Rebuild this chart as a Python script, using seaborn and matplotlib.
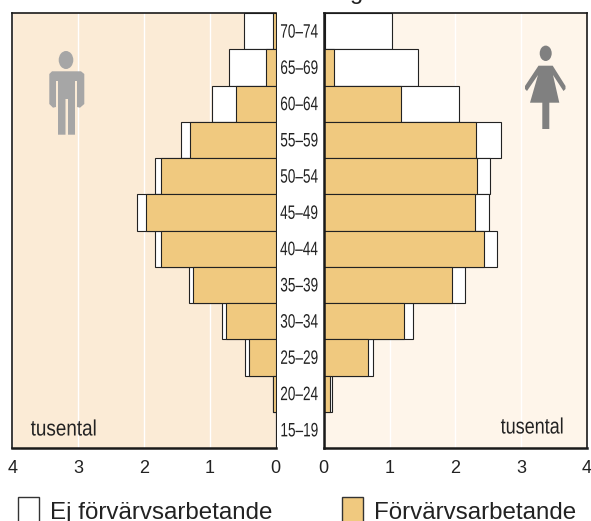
import numpy as np
import matplotlib
matplotlib.use('Agg')
import matplotlib.pyplot as plt
import matplotlib.patches as mpatches
from matplotlib.patheffects import AbstractPathEffect
from matplotlib.transforms import Affine2D
import seaborn as sns

# top row first, thousands
ages = ['70–74', '65–69', '60–64', '55–59', '50–54', '45–49',
        '40–44', '35–39', '30–34', '25–29', '20–24', '15–19']
menEmployed = [0.035, 0.14, 0.60, 1.30, 1.74, 1.97, 1.74, 1.25, 0.76, 0.40, 0.035, 0.0]
menTotal = [0.48, 0.71, 0.96, 1.44, 1.84, 2.10, 1.84, 1.32, 0.81, 0.46, 0.046, 0.0]
womenEmployed = [0.025, 0.15, 1.175, 2.32, 2.33, 2.30, 2.435, 1.955, 1.215, 0.67, 0.10, 0.0]
womenTotal = [1.04, 1.44, 2.05, 2.69, 2.52, 2.51, 2.64, 2.14, 1.36, 0.75, 0.12, 0.0]
xTicks = [0, 1, 2, 3, 4]

WIDTH, HEIGHT = 591, 521
ORANGE = '#F0C97F'
DARK = '#1A1A1A'
TEXT = '#222222'


class Squeeze(AbstractPathEffect):
    # narrow the glyphs around the middle of the string, no condensed font installed
    def __init__(self, factor):
        super().__init__()
        self.factor = factor

    def draw_path(self, renderer, gc, tpath, affine, rgbFace=None):
        mid = tpath.get_extents().x0 + tpath.get_extents().width / 2
        squeeze = Affine2D().translate(-mid, 0).scale(self.factor, 1).translate(mid, 0)
        renderer.draw_path(gc, tpath, squeeze + affine, rgbFace)


def axesRect(x0, x1, yTop, yBottom):
    return [x0 / WIDTH, 1 - yBottom / HEIGHT, (x1 - x0) / WIDTH, (yBottom - yTop) / HEIGHT]


def drawPanel(ax, total, employed, background):
    sns.barplot(x=total, y=ages, color='white', saturation=1, width=1,
                edgecolor='#222222', linewidth=0.8, ax=ax)
    sns.barplot(x=employed, y=ages, color=ORANGE, saturation=1, width=1,
                edgecolor='#222222', linewidth=0.8, ax=ax)
    ax.set_facecolor(background)
    ax.set_xlim(0, 4)
    ax.set_ylim(11.5, -0.5)
    ax.set_xticks(xTicks)
    ax.set_xlabel('')
    ax.set_ylabel('')
    ax.grid(axis='x', color='white', linewidth=1)
    ax.set_axisbelow(True)
    ax.tick_params(axis='x', length=0, pad=8.5, labelsize=13, labelcolor=TEXT)
    ax.tick_params(axis='y', length=0)
    for spine in ax.spines.values():
        spine.set_visible(True)
        spine.set_color(DARK)
        spine.set_linewidth(1.2)
    ax.spines['bottom'].set_linewidth(1.8)


if __name__ == '__main__':
    sns.set_style('white')
    plt.rcParams['font.family'] = ['Liberation Sans', 'DejaVu Sans']

    fig = plt.figure(figsize=(WIDTH / 100, HEIGHT / 100), dpi=100)
    axMen = fig.add_axes(axesRect(12.3, 275.7, 13, 448))
    axWomen = fig.add_axes(axesRect(323.7, 587, 13, 448))

    drawPanel(axMen, menTotal, menEmployed, '#FBEBD6')
    axMen.invert_xaxis()
    axMen.set_yticks([])
    axMen.spines['right'].set_linewidth(0.7)

    drawPanel(axWomen, womenTotal, womenEmployed, '#FEF5EA')
    axWomen.set_yticks(range(len(ages)))
    axWomen.set_yticklabels(ages, fontsize=14, color=TEXT, ha='center')
    axWomen.tick_params(axis='y', pad=17.5)
    axWomen.spines['left'].set_linewidth(1.8)
    for label in axWomen.get_yticklabels():
        label.set_path_effects([Squeeze(0.7)])

    # overlay in pixel coordinates for pictograms and legend
    over = fig.add_axes([0, 0, 1, 1], zorder=5)
    over.set_xlim(0, WIDTH)
    over.set_ylim(HEIGHT, 0)
    over.axis('off')
    over.patch.set_alpha(0)

    man = '#A6A6A6'
    over.add_patch(mpatches.Ellipse((66, 60), 14.6, 18, color=man, lw=0))
    over.add_patch(mpatches.Polygon([
        (52, 71.3), (81, 71.3), (84.3, 74), (84.3, 104), (80, 107.7), (77, 107),
        (77, 81), (75, 81), (75, 134.7), (68, 134.7), (68, 99), (65.5, 99),
        (65.5, 134.7), (58, 134.7), (58, 81), (56, 81), (56, 107), (53, 107.7),
        (49.3, 104), (49.3, 74)], closed=True, color=man, lw=0))

    woman = '#808080'
    over.add_patch(mpatches.Ellipse((545.7, 53.3), 12, 15.4, color=woman, lw=0))
    over.add_patch(mpatches.Polygon([
        (538.5, 65.7), (552.7, 65.7), (565.5, 86), (565.5, 89), (563.5, 91),
        (553, 75), (559.3, 102.7), (549.3, 102.7), (549.3, 129), (542.3, 129),
        (542.3, 102.7), (530, 102.7), (538, 75), (527, 91), (525, 89), (525, 86)],
        closed=True, color=woman, lw=0))

    tusenLeft = over.text(64, 430, 'tusental', fontsize=16, color=TEXT, va='center', ha='center')
    tusenRight = over.text(532.5, 428, 'tusental', fontsize=16, color=TEXT, va='center', ha='center')
    tusenLeft.set_path_effects([Squeeze(0.85)])
    tusenRight.set_path_effects([Squeeze(0.81)])

    # title is cut by the top edge in the reference, only the tail of the g shows
    over.text(357, -1.2, 'g', fontsize=17, color=TEXT, va='baseline', ha='center', clip_on=False)

    over.add_patch(mpatches.Rectangle((17.5, 496.7), 21, 30, facecolor='white',
                                      edgecolor='#333333', linewidth=1))
    over.add_patch(mpatches.Rectangle((341.7, 496.7), 21, 30, facecolor=ORANGE,
                                      edgecolor='#333333', linewidth=1))
    over.text(50, 519, 'Ej förvärvsarbetande', fontsize=17.4, color=TEXT, va='baseline', ha='left')
    over.text(374, 519, 'Förvärvsarbetande', fontsize=17.4, color=TEXT, va='baseline', ha='left')

    fig.savefig('out.png', dpi=100)
